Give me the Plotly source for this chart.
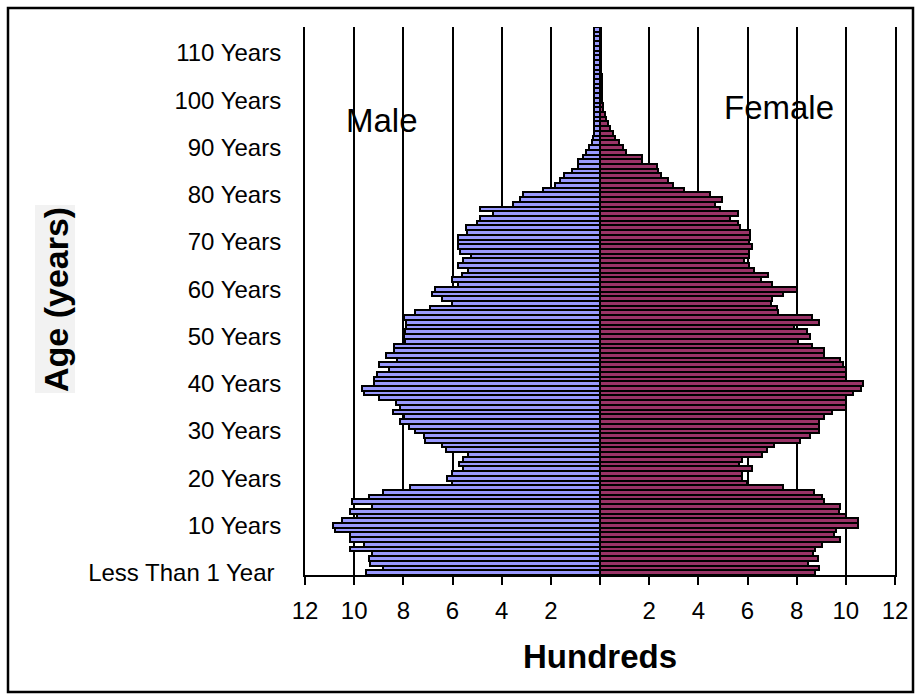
import plotly.graph_objects as go

# Single-year ages 0..115
ages = list(range(116))

# Population in hundreds, by single year of age
male = [
    9.51, 8.81, 9.35, 9.38, 9.28, 10.19, 9.62, 10.19, 10.19, 10.77,
    10.88, 10.50, 9.89, 10.19, 9.28, 10.09, 9.38, 8.81, 7.72, 6.03,
    6.23, 6.03, 5.56, 5.72, 5.56, 5.35, 6.27, 6.44, 7.11, 7.15,
    7.52, 7.79, 8.13, 7.97, 8.43, 8.13, 8.29, 9.01, 9.62, 9.69,
    9.19, 9.19, 9.08, 8.60, 9.01, 8.27, 8.70, 8.36, 8.40, 7.93,
    7.99, 7.93, 7.89, 7.89, 7.99, 7.52, 6.91, 6.03, 6.44, 6.84,
    6.73, 5.76, 6.03, 5.62, 5.35, 5.76, 5.56, 5.26, 5.69, 5.76,
    5.76, 5.76, 5.42, 5.46, 4.99, 4.88, 4.36, 4.88, 3.55, 3.25,
    3.14, 2.33, 1.83, 1.63, 1.45, 1.15, 0.91, 0.91, 0.68, 0.57,
    0.45, 0.34, 0.28, 0.26, 0.25, 0.25, 0.24, 0.24, 0.25, 0.24,
    0.24, 0.25, 0.24, 0.24, 0.25, 0.24, 0.24, 0.23, 0.24, 0.24,
    0.23, 0.24, 0.24, 0.24, 0.23, 0.24,
]
female = [
    8.74, 8.90, 8.47, 8.85, 8.67, 8.74, 9.01, 9.76, 9.53, 9.62,
    10.50, 10.50, 9.99, 9.72, 9.76, 9.12, 9.01, 8.71, 7.45, 5.96,
    5.76, 5.76, 6.17, 5.65, 5.76, 6.57, 6.78, 7.07, 8.13, 8.54,
    8.90, 8.90, 8.90, 9.12, 9.44, 9.99, 9.99, 9.99, 10.30, 10.61,
    10.70, 9.99, 9.99, 9.99, 9.89, 9.76, 9.12, 9.12, 8.63, 8.04,
    8.54, 8.43, 7.89, 8.90, 8.63, 7.25, 7.22, 6.95, 7.00, 7.45,
    8.02, 6.98, 6.54, 6.84, 6.27, 6.06, 5.87, 6.06, 6.06, 6.17,
    6.06, 6.10, 6.10, 5.69, 5.60, 5.28, 5.62, 4.88, 4.67, 4.97,
    4.47, 3.40, 2.95, 2.75, 2.50, 2.35, 2.30, 1.69, 1.69, 1.05,
    0.95, 0.78, 0.62, 0.52, 0.42, 0.33, 0.26, 0.19, 0.14, 0.11,
    0.09, 0.08, 0.08, 0.07, 0.07, 0.07, 0.06, 0.06, 0.06, 0.06,
    0.06, 0.05, 0.05, 0.05, 0.05, 0.05,
]

age_tick_vals = [0, 10, 20, 30, 40, 50, 60, 70, 80, 90, 100, 110]
age_tick_text = ["Less Than 1 Year\u00a0", "10 Years", "20 Years", "30 Years",
                 "40 Years", "50 Years", "60 Years", "70 Years", "80 Years",
                 "90 Years", "100 Years", "110 Years"]
count_tick_vals = [-12, -10, -8, -6, -4, -2, 0, 2, 4, 6, 8, 10, 12]
count_tick_text = ["12", "10", "8", "6", "4", "2", "", "2", "4", "6", "8", "10", "12"]

MALE_COLOR = "#9999FF"
FEMALE_COLOR = "#993366"
FONT = "Liberation Sans, Arial, sans-serif"

fig = go.Figure()
fig.add_trace(go.Bar(
    y=ages, x=[-v for v in male], orientation="h", name="Male",
    marker=dict(color=MALE_COLOR, line=dict(color="black", width=2)),
    customdata=male, hovertemplate="Age %{y}: %{customdata} hundred<extra>Male</extra>",
))
fig.add_trace(go.Bar(
    y=ages, x=female, orientation="h", name="Female",
    marker=dict(color=FEMALE_COLOR, line=dict(color="black", width=2)),
    hovertemplate="Age %{y}: %{x} hundred<extra>Female</extra>",
))

# Plot area in pixels: x 305..895, y 27..575
L, R, T, B = 305, 25, 27, 125
W, H = 920 - L - R, 700 - T - B


def px(x):
    return (x - L) / W


def py(y):
    return (700 - B - y) / H


fig.update_layout(
    width=920, height=700,
    margin=dict(l=L, r=R, t=T, b=B, pad=0),
    paper_bgcolor="white", plot_bgcolor="white",
    barmode="relative", bargap=0,
    showlegend=False,
    font=dict(family=FONT, size=24, color="black"),
    xaxis=dict(
        range=[-12, 12], tickvals=count_tick_vals, ticktext=count_tick_text,
        showgrid=True, gridcolor="black", gridwidth=2, zeroline=False,
        showline=True, linecolor="black", linewidth=2,
        ticks="outside", ticklen=8, tickwidth=2, tickcolor="black",
        ticklabelstandoff=5, tickfont=dict(size=24), fixedrange=True,
    ),
    yaxis=dict(
        range=[-0.5, 115.5], tickvals=age_tick_vals, ticktext=age_tick_text,
        showgrid=False, zeroline=False,
        showline=True, mirror=True, linecolor="black", linewidth=2, ticks="",
        ticklabelstandoff=17, tickfont=dict(size=24), fixedrange=True,
    ),
    shapes=[
        # outer chart frame
        dict(type="rect", xref="paper", yref="paper",
             x0=px(8), x1=px(913), y0=py(692), y1=py(8),
             line=dict(color="black", width=2.5), layer="above"),
        # panel behind the vertical axis title
        dict(type="rect", xref="paper", yref="paper",
             x0=px(35), x1=px(75), y0=py(393), y1=py(205),
             fillcolor="#f2f2f2", line=dict(width=0), layer="below"),
    ],
    annotations=[
        dict(text="Male", x=-8.85, y=95.8, xref="x", yref="y",
             xanchor="center", yanchor="middle",
             showarrow=False, font=dict(size=33)),
        dict(text="Female", x=7.27, y=98.5, xref="x", yref="y",
             xanchor="center", yanchor="middle",
             showarrow=False, font=dict(size=33)),
        dict(text="<b>Hundreds</b>", x=px(600), y=py(656), xref="paper", yref="paper",
             xanchor="center", yanchor="middle",
             showarrow=False, font=dict(size=33)),
        dict(text="<b>Age (years)</b>", x=px(56), y=py(300), xref="paper", yref="paper",
             xanchor="center", yanchor="middle", textangle=-90, showarrow=False,
             font=dict(size=34)),
    ],
)

fig.write_html("out.html")
